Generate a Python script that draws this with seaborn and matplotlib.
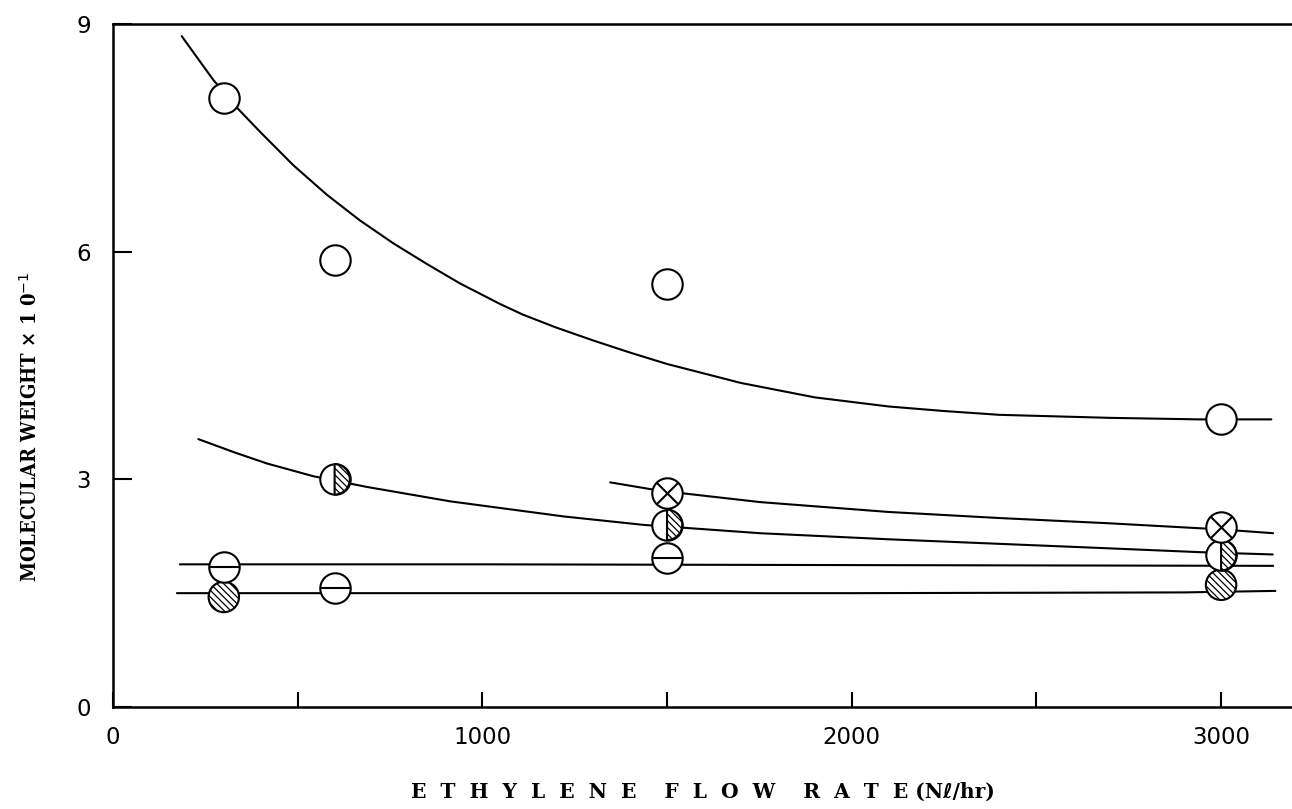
import numpy as np
import pandas as pd
import matplotlib
matplotlib.use("Agg")
import matplotlib.pyplot as plt
from matplotlib.path import Path
from matplotlib.ticker import FixedLocator, NullFormatter
import seaborn as sns

# Measured molecular weight against ethylene flow rate, one list pair per marker type
flow_open = [300, 600, 1500, 3000]
mw_open = [8.03, 5.89, 5.57, 3.79]

flow_half = [600, 1500, 3000]
mw_half = [3.00, 2.40, 2.00]

flow_cross = [1500, 3000]
mw_cross = [2.82, 2.37]

flow_bar = [300, 600, 1500]
mw_bar = [1.84, 1.57, 1.96]

flow_hatch = [300, 3000]
mw_hatch = [1.45, 1.61]

# Hand-drawn trend curves
curve_open_x = [186, 272, 339, 398, 488, 579, 669, 759, 849, 940, 1048, 1110,
                1200, 1300, 1400, 1500, 1700, 1900, 2100, 2250, 2400, 2700,
                2941, 3136]
curve_open_y = [8.84, 8.26, 7.88, 7.58, 7.14, 6.75, 6.41, 6.11, 5.84, 5.58,
                5.31, 5.17, 5.00, 4.83, 4.67, 4.52, 4.27, 4.08, 3.96, 3.90,
                3.85, 3.81, 3.79, 3.79]

curve_half_x = [231, 326, 416, 543, 687, 913, 1222, 1436, 1752, 2100, 2400,
                2700, 2944, 3140]
curve_half_y = [3.53, 3.36, 3.21, 3.04, 2.90, 2.71, 2.51, 2.40, 2.29, 2.21,
                2.15, 2.09, 2.04, 2.01]

curve_cross_x = [1346, 1481, 1752, 2100, 2400, 2700, 3000, 3141]
curve_cross_y = [2.96, 2.85, 2.70, 2.57, 2.49, 2.42, 2.34, 2.29]

curve_bar_x = [181, 1000, 2000, 3141]
curve_bar_y = [1.88, 1.88, 1.87, 1.86]

curve_hatch_x = [173, 1000, 2000, 2900, 3147]
curve_hatch_y = [1.50, 1.50, 1.50, 1.51, 1.53]

x_major = [0, 1000, 2000, 3000]
x_minor = [500, 1500, 2500]
y_major = [0, 3, 6, 9]

sns.set_theme(style="white")
plt.rcParams["font.family"] = ["DejaVu Sans"]
plt.rcParams["hatch.color"] = "black"
plt.rcParams["hatch.linewidth"] = 0.9

fig = plt.figure(figsize=(12.92, 8.09), dpi=100)
ax = fig.add_axes([113 / 1292, 102 / 809, 1 - 113 / 1292, 683 / 809])

LW = 1.5
for cx, cy in [(curve_open_x, curve_open_y), (curve_half_x, curve_half_y),
               (curve_cross_x, curve_cross_y), (curve_bar_x, curve_bar_y),
               (curve_hatch_x, curve_hatch_y)]:
    sns.lineplot(x=cx, y=cy, ax=ax, color="black", lw=LW, sort=False,
                 estimator=None, zorder=2, legend=False)

S = 480
HATCH = "\\" * 5


def base_circles(x, y, z, **kw):
    sns.scatterplot(x=x, y=y, ax=ax, s=S, marker="o", color="white",
                    edgecolor="black", linewidth=LW, zorder=z, legend=False, **kw)


# open circles
base_circles(flow_open, mw_open, 3)

# fully hatched circles
base_circles(flow_hatch, mw_hatch, 3, hatch=HATCH)

# barred circles
base_circles(flow_bar, mw_bar, 4)
sns.scatterplot(x=flow_bar, y=mw_bar, ax=ax, s=S, marker="_",
                color="black", edgecolor="black", linewidth=LW, zorder=4.5,
                legend=False)

# right-half hatched circles
base_circles(flow_half, mw_half, 5)
sns.scatterplot(x=flow_half, y=mw_half, ax=ax, s=S,
                marker=Path.unit_circle_righthalf(), color="white",
                edgecolor="black", linewidth=LW, hatch=HATCH, zorder=5.5,
                legend=False)

# crossed circles
base_circles(flow_cross, mw_cross, 6)
sns.scatterplot(x=flow_cross, y=mw_cross, ax=ax, s=S / 2, marker="x",
                color="black", edgecolor="black", linewidth=LW, zorder=6.5,
                legend=False)

ax.set_xlim(0, 3192)
ax.set_ylim(0, 9)

ax.xaxis.set_major_locator(FixedLocator(x_major))
ax.xaxis.set_minor_locator(FixedLocator(x_minor))
ax.yaxis.set_major_locator(FixedLocator(y_major))
ax.xaxis.set_minor_formatter(NullFormatter())
ax.set_xticklabels([str(v) for v in x_major])
ax.set_yticklabels([str(v) for v in y_major])

ax.tick_params(axis="x", which="both", direction="in", length=11, width=1.5,
               color="black", labelsize=16.5, pad=14, bottom=True, top=False,
               labelcolor="black")
ax.tick_params(axis="y", which="both", direction="in", length=14, width=1.5,
               color="black", labelsize=16.5, pad=16, left=True, right=False,
               labelcolor="black")

for side in ["left", "bottom", "top"]:
    ax.spines[side].set_visible(True)
    ax.spines[side].set_color("black")
    ax.spines[side].set_linewidth(1.8)
ax.spines["right"].set_visible(False)
ax.set_facecolor("white")
fig.patch.set_facecolor("white")

serif = ["DejaVu Serif", "DejaVu Sans"]
fig.text(703 / 1292, 1 - 792 / 809,
         "E  T  H  Y  L  E  N  E    F  L  O  W    R  A  T  E (N\u2113/hr)",
         ha="center", va="center", fontsize=14.5, fontweight="bold",
         family=serif, color="black")
fig.text(30 / 1292, 1 - 427 / 809,
         "MOLECULAR WEIGHT \u00d7 1 0$^{-1}$",
         ha="center", va="center", rotation=90, fontsize=14.5,
         fontweight="bold", fontstretch="condensed", family=serif,
         color="black")

fig.savefig("out.png", dpi=100, facecolor="white")
